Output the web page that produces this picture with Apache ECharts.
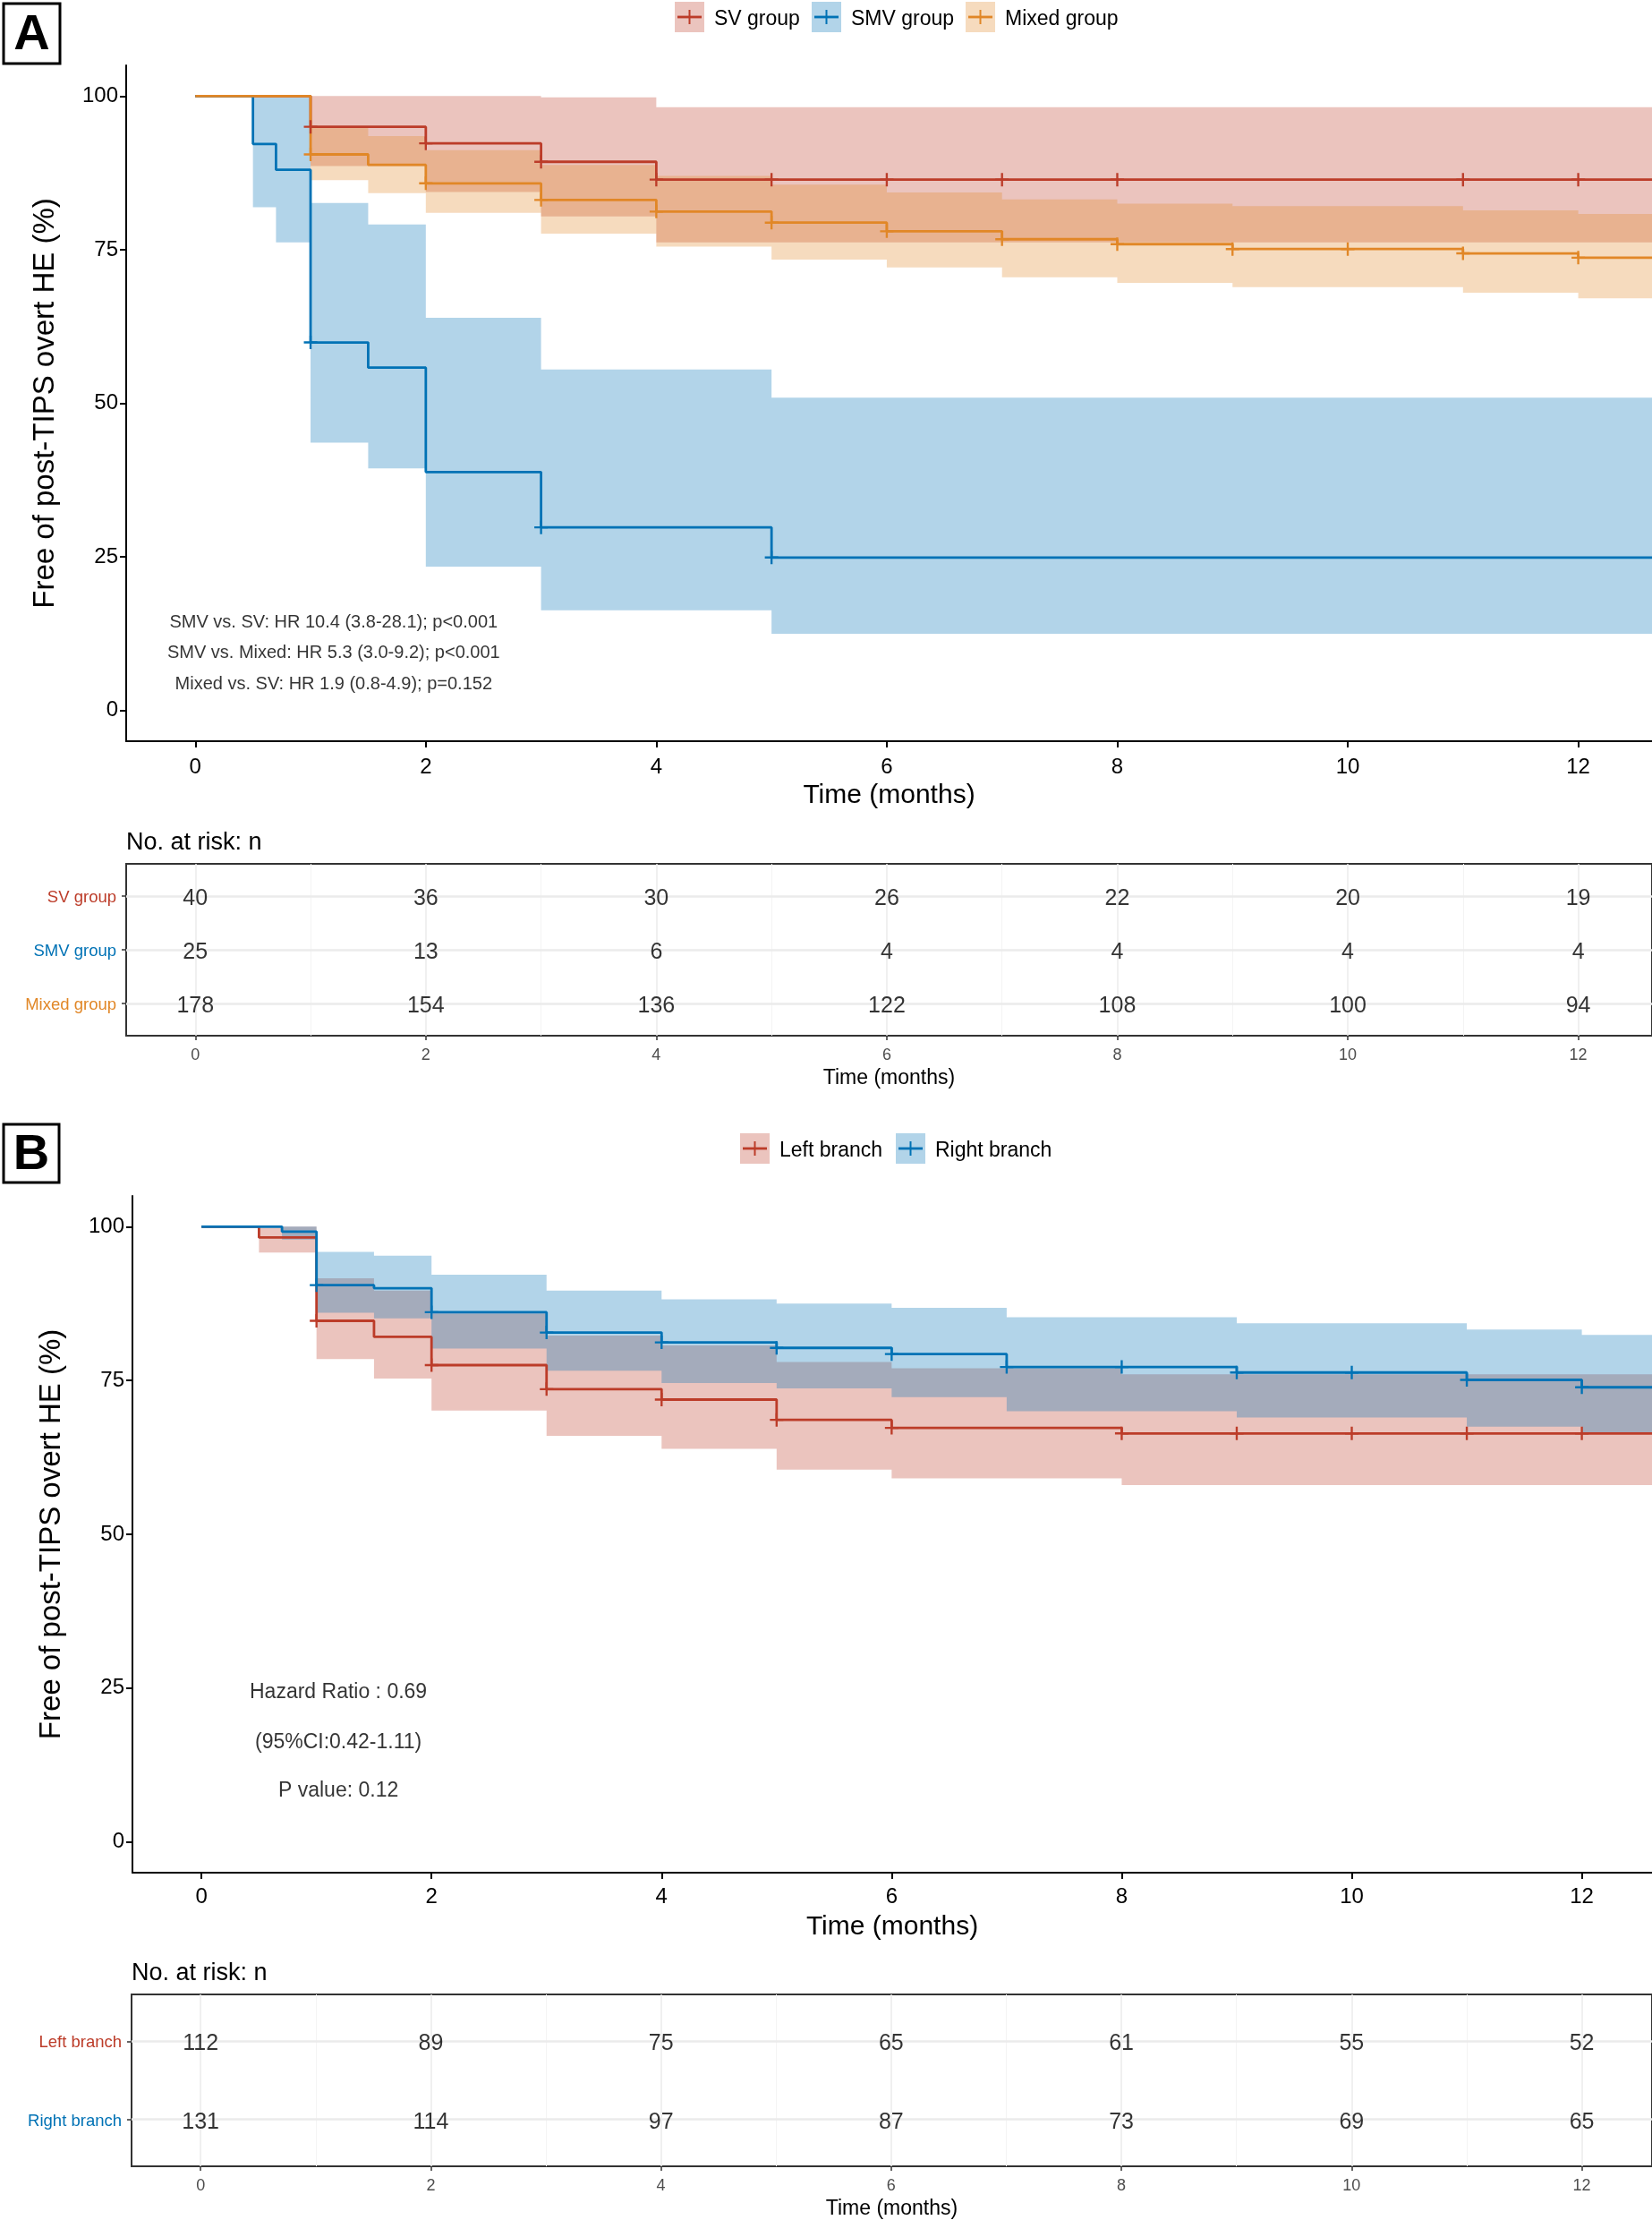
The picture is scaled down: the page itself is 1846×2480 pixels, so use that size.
<!DOCTYPE html>
<html><head><meta charset="utf-8">
<script src="https://cdn.jsdelivr.net/npm/echarts@6/dist/echarts.min.js"></script>
<style>html,body{margin:0;padding:0;background:#fff}#c{width:1846px;height:2480px}</style>
</head><body><div id="c"></div>
<script>
// ---------------- DATA ----------------
const monthTicks = [0, 2, 4, 6, 8, 10, 12];
const survTicks = [0, 25, 50, 75, 100];
const END_T = 12.8;

// Panel A
const svTime   = [0, 1, 2, 3, 4];
const svSurv   = [100, 95.0, 92.3, 89.3, 86.4];
const svUpper  = [100, 100, 100, 99.8, 98.2];
const svLower  = [100, 88.6, 84.4, 80.4, 76.2];
const svCensor = [1, 2, 3, 4, 5, 6, 7, 8, 11, 12];

const smvTime   = [0, 0.5, 0.7, 1, 1.5, 2, 3, 5];
const smvSurv   = [100, 92.2, 88.0, 59.9, 55.8, 38.8, 29.8, 24.9];
const smvUpper  = [100, 100, 100, 82.6, 79.1, 63.9, 55.5, 50.9];
const smvLower  = [100, 81.9, 76.2, 43.6, 39.4, 23.4, 16.3, 12.5];
const smvCensor = [1, 3, 5];

const mixTime   = [0, 1, 1.5, 2, 3, 4, 5, 6, 7, 8, 9, 11, 12];
const mixSurv   = [100, 90.5, 88.8, 85.8, 83.1, 81.2, 79.4, 78.0, 76.7, 75.9, 75.1, 74.4, 73.7];
const mixUpper  = [100, 94.8, 93.5, 91.2, 88.8, 87.0, 85.6, 84.3, 83.2, 82.5, 82.1, 81.4, 80.8];
const mixLower  = [100, 86.3, 84.2, 81.0, 77.6, 75.5, 73.4, 72.1, 70.5, 69.6, 68.9, 68.0, 67.1];
const mixCensor = [1, 2, 3, 4, 5, 6, 7, 8, 9, 10, 11, 12];

const groupsA = ['SV group', 'SMV group', 'Mixed group'];
const riskTimes = [0, 2, 4, 6, 8, 10, 12];
const riskSV    = [40, 36, 30, 26, 22, 20, 19];
const riskSMV   = [25, 13, 6, 4, 4, 4, 4];
const riskMixed = [178, 154, 136, 122, 108, 100, 94];
const statsA = [
  'SMV vs. SV: HR 10.4 (3.8-28.1); p<0.001',
  'SMV vs. Mixed: HR 5.3 (3.0-9.2); p<0.001',
  'Mixed vs. SV: HR 1.9 (0.8-4.9); p=0.152'
];

// Panel B
const leftTime   = [0, 0.5, 1, 1.5, 2, 3, 4, 5, 6, 8];
const leftSurv   = [100, 98.25, 84.7, 82.1, 77.5, 73.6, 71.9, 68.6, 67.3, 66.4];
const leftUpper  = [100, 100, 91.6, 89.6, 85.9, 82.3, 80.7, 78.0, 77.0, 76.0];
const leftLower  = [100, 95.8, 78.5, 75.3, 70.1, 66.0, 63.9, 60.5, 59.1, 58.0];
const leftCensor = [1, 2, 3, 4, 5, 6, 8, 9, 10, 11, 12];

const rightTime   = [0, 0.7, 1, 1.5, 2, 3, 4, 5, 6, 7, 9, 11, 12];
const rightSurv   = [100, 99.2, 90.5, 90.0, 86.1, 82.8, 81.2, 80.3, 79.3, 77.2, 76.3, 75.1, 73.9];
const rightUpper  = [100, 100, 95.9, 95.3, 92.2, 89.6, 88.2, 87.5, 86.8, 85.3, 84.3, 83.3, 82.4];
const rightLower  = [100, 97.9, 86.0, 85.1, 80.2, 76.6, 74.6, 73.7, 72.3, 70.0, 69.0, 67.5, 66.6];
const rightCensor = [1, 2, 3, 4, 5, 6, 7, 8, 9, 10, 11, 12];

const groupsB = ['Left branch', 'Right branch'];
const riskLeft  = [112, 89, 75, 65, 61, 55, 52];
const riskRight = [131, 114, 97, 87, 73, 69, 65];
const statsB = ['Hazard Ratio : 0.69', '(95%CI:0.42-1.11)', 'P value: 0.12'];

// ---------------- STYLE ----------------
const FONT = '"Liberation Sans", Arial, Helvetica, sans-serif';
const RED = '#BC3C29', BLUE = '#0072B5', ORANGE = '#E18727';
const RED_F = 'rgba(188,60,41,0.3)', BLUE_F = 'rgba(0,114,181,0.3)', ORANGE_F = 'rgba(225,135,39,0.3)';
const PLUS = 'path://M-1.1,-7L1.1,-7L1.1,7L-1.1,7Z M-7,-1.1L7,-1.1L7,1.1L-7,1.1Z';

// ---------------- HELPERS ----------------
function stepPts(times, vals) {
  const p = times.map((t, i) => [t, vals[i]]);
  p.push([END_T, vals[vals.length - 1]]);
  return p;
}
function valueAt(times, vals, t) {
  let v = vals[0];
  for (let i = 0; i < times.length; i++) if (times[i] <= t + 1e-9) v = vals[i];
  return v;
}
function ribbon(g, times, lo, up, fill) {
  const tt = times.concat([END_T]);
  return {type: 'custom', coordinateSystem: 'cartesian2d', xAxisIndex: g, yAxisIndex: g, silent: true, z: 1, clip: true,
    data: times.map((t, i) => [t, lo[i], up[i]]),
    encode: {x: 0, y: [1, 2]},
    renderItem: function (params, api) {
      if (params.dataIndex !== 0) return null;
      const pts = [];
      for (let i = 0; i < times.length; i++) { pts.push(api.coord([tt[i], up[i]])); pts.push(api.coord([tt[i + 1], up[i]])); }
      for (let i = times.length - 1; i >= 0; i--) { pts.push(api.coord([tt[i + 1], lo[i]])); pts.push(api.coord([tt[i], lo[i]])); }
      return {type: 'polygon', shape: {points: pts}, style: {fill: fill, stroke: null}};
    }};
}
function curve(g, times, vals, color) {
  return {type: 'line', xAxisIndex: g, yAxisIndex: g, step: 'end', symbol: 'none', data: stepPts(times, vals),
          lineStyle: {color, width: 2.8}, itemStyle: {color}, silent: true, z: 3};
}
function marks(g, times, vals, cens, color) {
  return {type: 'scatter', xAxisIndex: g, yAxisIndex: g, symbol: PLUS, symbolSize: 15,
          data: cens.map(t => [t, valueAt(times, vals, t)]), itemStyle: {color, opacity: 1}, silent: true, z: 4};
}
function textSeries(g, pts, texts, size) {
  return {type: 'scatter', xAxisIndex: g, yAxisIndex: g, symbolSize: 1, itemStyle: {color: 'rgba(0,0,0,0)'},
          data: pts.map((p, i) => ({value: p, txt: texts[i]})), silent: true, z: 6,
          label: {show: true, position: 'inside', offset: [0, 2], formatter: p => p.data.txt, fontSize: size, color: '#000', fontFamily: FONT}};
}
function riskSeries(g, row, counts) {
  return {type: 'scatter', xAxisIndex: g, yAxisIndex: g, symbolSize: 1, itemStyle: {color: 'rgba(0,0,0,0)'},
          data: riskTimes.map((t, i) => [t, row, counts[i]]), silent: true, z: 6,
          label: {show: true, position: 'inside', offset: [0, 3], formatter: p => String(p.value[2]), fontSize: 25, color: '#000', fontFamily: FONT}};
}
function tableGrid(g, rows) {
  const xs = [0,1,2,3,4,5,6,7,8,9,10,11,12];
  return {type: 'scatter', xAxisIndex: g, yAxisIndex: g, data: [], silent: true, z: 2,
    markLine: {silent: true, symbol: ['none', 'none'], label: {show: false}, animation: false,
      data: xs.map(v => ({xAxis: v, lineStyle: {color: v % 2 ? '#F4F4F4' : '#EBEBEB', width: v % 2 ? 1 : 1.5, type: 'solid'}}))
        .concat(rows.map(r => ({yAxis: r, lineStyle: {color: '#EBEBEB', width: 2.5, type: 'solid'}})))}};
}
function mainX(g, min, max, margin, gap) {
  return {type: 'value', gridIndex: g, min, max, name: 'Time (months)', nameLocation: 'middle', nameGap: gap,
    nameTextStyle: {fontSize: 30, color: '#000', fontFamily: FONT},
    axisLine: {show: true, onZero: false, lineStyle: {color: '#000', width: 2}},
    axisTick: {show: true, customValues: monthTicks, length: 7, lineStyle: {color: '#000', width: 2}},
    axisLabel: {customValues: monthTicks, fontSize: 24, color: '#000', margin, fontFamily: FONT},
    splitLine: {show: false}};
}
function mainY(g) {
  return {type: 'value', gridIndex: g, min: -5, max: 105, name: 'Free of post-TIPS overt HE (%)',
    nameLocation: 'middle', nameGap: 74, nameRotate: 90,
    nameTextStyle: {fontSize: 33, color: '#000', fontFamily: FONT},
    axisLine: {show: true, onZero: false, lineStyle: {color: '#000', width: 2}},
    axisTick: {show: true, customValues: survTicks, length: 7, lineStyle: {color: '#000', width: 2}},
    axisLabel: {customValues: survTicks, fontSize: 24, color: '#000', margin: 9, padding: [5, 0, 0, 0], fontFamily: FONT},
    splitLine: {show: false}};
}
function tableX(g, min, max) {
  return {type: 'value', gridIndex: g, min, max, name: 'Time (months)', nameLocation: 'middle', nameGap: 36,
    nameTextStyle: {fontSize: 23, color: '#000', fontFamily: FONT},
    axisLine: {show: false, onZero: false},
    axisTick: {show: true, customValues: monthTicks, length: 5, lineStyle: {color: '#333', width: 1.5}},
    axisLabel: {customValues: monthTicks, fontSize: 18, color: '#4D4D4D', margin: 13, fontFamily: FONT},
    splitLine: {show: false}};
}
function tableY(g, names, colors) {
  const rows = names.map((n, i) => i + 1);
  const rich = {};
  names.forEach((n, i) => { rich['g' + (i + 1)] = {color: colors[i], fontSize: 18.5, fontFamily: FONT}; });
  return {type: 'value', gridIndex: g, min: 0.4, max: names.length + 0.6, inverse: true,
    axisLine: {show: false, onZero: false},
    axisTick: {show: true, customValues: rows, length: 5, lineStyle: {color: '#333', width: 1.5}},
    axisLabel: {customValues: rows, margin: 11, padding: [4, 0, 0, 0], formatter: v => '{g' + v + '|' + names[v - 1] + '}', rich},
    splitLine: {show: false}};
}
function legendItems(items, cy) {
  const out = [];
  items.forEach(it => {
    out.push({type: 'rect', shape: {x: it.x, y: cy - 17, width: 33, height: 34}, style: {fill: it.fill}});
    out.push({type: 'line', shape: {x1: it.x + 3, y1: cy, x2: it.x + 30, y2: cy}, style: {stroke: it.color, lineWidth: 2.8}});
    out.push({type: 'line', shape: {x1: it.x + 16.5, y1: cy - 8, x2: it.x + 16.5, y2: cy + 8}, style: {stroke: it.color, lineWidth: 2}});
    out.push({type: 'text', x: it.x + 44, y: cy + 3, style: {text: it.name, fontSize: 23, fontFamily: FONT, fill: '#000', align: 'left', verticalAlign: 'middle'}});
  });
  return out;
}

// ---------------- OPTION ----------------
const xMinA = -0.6, xMaxA = 12.64, xMinB = -0.6, xMaxB = 12.61;
const option = {
  animation: false,
  backgroundColor: '#fff',
  grid: [
    {left: 141, top: 73, width: 1705, height: 755, outerBoundsMode: 'none', containLabel: false},
    {left: 141, top: 965, width: 1705, height: 192, outerBoundsMode: 'none', containLabel: false, show: true, borderColor: '#333', borderWidth: 2},
    {left: 148, top: 1336, width: 1698, height: 756, outerBoundsMode: 'none', containLabel: false},
    {left: 147, top: 2228, width: 1699, height: 192, outerBoundsMode: 'none', containLabel: false, show: true, borderColor: '#333', borderWidth: 2}
  ],
  xAxis: [mainX(0, xMinA, xMaxA, 17, 46), tableX(1, xMinA, xMaxA), mainX(2, xMinB, xMaxB, 15, 46), tableX(3, xMinB, xMaxB)],
  yAxis: [mainY(0), tableY(1, groupsA, [RED, BLUE, ORANGE]), mainY(2), tableY(3, groupsB, [RED, BLUE])],
  series: [
    ribbon(0, svTime, svLower, svUpper, RED_F),
    ribbon(0, smvTime, smvLower, smvUpper, BLUE_F),
    ribbon(0, mixTime, mixLower, mixUpper, ORANGE_F),
    curve(0, svTime, svSurv, RED), curve(0, smvTime, smvSurv, BLUE), curve(0, mixTime, mixSurv, ORANGE),
    marks(0, svTime, svSurv, svCensor, RED), marks(0, smvTime, smvSurv, smvCensor, BLUE), marks(0, mixTime, mixSurv, mixCensor, ORANGE),
    textSeries(0, [[1.2, 14.65], [1.2, 9.65], [1.2, 4.6]], statsA, 20),
    tableGrid(1, [1, 2, 3]),
    riskSeries(1, 1, riskSV), riskSeries(1, 2, riskSMV), riskSeries(1, 3, riskMixed),
    ribbon(2, leftTime, leftLower, leftUpper, RED_F),
    ribbon(2, rightTime, rightLower, rightUpper, BLUE_F),
    curve(2, leftTime, leftSurv, RED), curve(2, rightTime, rightSurv, BLUE),
    marks(2, leftTime, leftSurv, leftCensor, RED), marks(2, rightTime, rightSurv, rightCensor, BLUE),
    textSeries(2, [[1.19, 24.6], [1.19, 16.4], [1.19, 8.6]], statsB, 23),
    tableGrid(3, [1, 2]),
    riskSeries(3, 1, riskLeft), riskSeries(3, 2, riskRight)
  ],
  graphic: [].concat(
    [
      {type: 'rect', shape: {x: 4, y: 4, width: 63, height: 67}, style: {fill: '#fff', stroke: '#000', lineWidth: 3}},
      {type: 'text', x: 35.5, y: 40, style: {text: 'A', fontSize: 56, fontWeight: 'bold', fontFamily: FONT, fill: '#000', align: 'center', verticalAlign: 'middle'}},
      {type: 'rect', shape: {x: 4, y: 1256, width: 62, height: 65}, style: {fill: '#fff', stroke: '#000', lineWidth: 3}},
      {type: 'text', x: 35, y: 1291, style: {text: 'B', fontSize: 56, fontWeight: 'bold', fontFamily: FONT, fill: '#000', align: 'center', verticalAlign: 'middle'}},
      {type: 'text', x: 141, y: 942, style: {text: 'No. at risk: n', fontSize: 27, fontFamily: FONT, fill: '#000', align: 'left', verticalAlign: 'middle'}},
      {type: 'text', x: 147, y: 2205, style: {text: 'No. at risk: n', fontSize: 27, fontFamily: FONT, fill: '#000', align: 'left', verticalAlign: 'middle'}}
    ],
    legendItems([
      {name: groupsA[0], x: 754, color: RED, fill: RED_F},
      {name: groupsA[1], x: 907, color: BLUE, fill: BLUE_F},
      {name: groupsA[2], x: 1079, color: ORANGE, fill: ORANGE_F}
    ], 19),
    legendItems([
      {name: groupsB[0], x: 827, color: RED, fill: RED_F},
      {name: groupsB[1], x: 1001, color: BLUE, fill: BLUE_F}
    ], 1283)
  )
};
const chart = echarts.init(document.getElementById('c'), null, {renderer: 'canvas', width: 1846, height: 2480});
chart.setOption(option);
</script>
</body></html>
